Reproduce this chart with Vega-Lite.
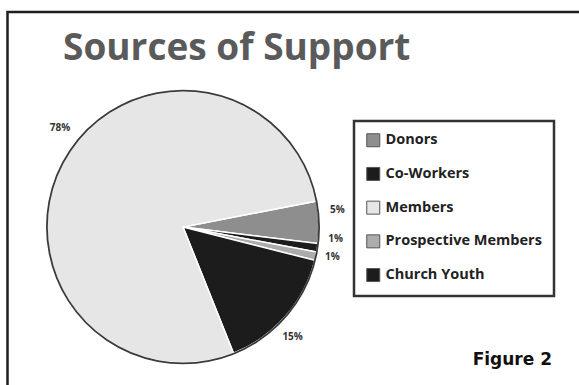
{
  "$schema": "https://vega.github.io/schema/vega-lite/v6.json",
  "width": 280,
  "height": 280,
  "autosize": "none",
  "padding": {"left": 43, "top": 87, "right": 256, "bottom": 18},
  "background": "#ffffff",
  "config": {"view": {"stroke": null}, "legend": {"strokeWidth": 2.5}},
  "title": {
    "text": "Sources of Support",
    "anchor": "start",
    "frame": "group",
    "dx": 20,
    "dy": 36,
    "offset": -58,
    "baseline": "bottom",
    "font": "Open Sans",
    "fontSize": 37,
    "fontWeight": "bold",
    "color": "#5a5a5a"
  },
  "data": {
    "values": [
      {"source": "Donors", "pct": 5, "label": "5%", "seq": 1},
      {"source": "Co-Workers", "pct": 1, "label": "1%", "seq": 2},
      {"source": "Prospective Members", "pct": 1, "label": "1%", "seq": 3},
      {"source": "Church Youth", "pct": 15, "label": "15%", "seq": 4},
      {"source": "Members", "pct": 78, "label": "78%", "seq": 5}
    ]
  },
  "layer": [
    {
      "data": {"values": [{"frame": "outer"}]},
      "mark": {"type": "rect", "x": -35.5, "x2": 620, "y": -75, "y2": 420, "fill": null, "stroke": "#1e1e1e", "strokeWidth": 2.5},
      "encoding": {}
    },
    {
      "mark": {"type": "arc", "radius": 136, "stroke": "#ffffff", "strokeWidth": 1.5},
      "encoding": {
        "theta": {"field": "pct", "type": "quantitative", "stack": true, "scale": {"range": [1.3788, 7.662]}},
        "order": {"field": "seq", "type": "quantitative"},
        "color": {
          "field": "source",
          "type": "nominal",
          "scale": {
            "domain": ["Donors", "Co-Workers", "Members", "Prospective Members", "Church Youth"],
            "range": ["#8e8e8e", "#1c1c1c", "#e6e6e6", "#acacac", "#1c1c1c"]
          },
          "legend": {
            "orient": "none",
            "legendX": 311,
            "legendY": 34,
            "title": null,
            "strokeColor": "#333333",
            "padding": 12,
            "symbolType": "square",
            "symbolSize": 169,
            "symbolStrokeColor": "#555555",
            "symbolStrokeWidth": 1,
            "symbolOpacity": 1,
            "labelFont": "Open Sans",
            "labelFontWeight": "bold",
            "labelFontSize": 14.5,
            "labelColor": "#222222",
            "rowPadding": 15.7,
            "labelOffset": 5
          }
        }
      }
    },
    {
      "transform": [{"aggregate": [{"op": "sum", "field": "pct", "as": "total"}]}],
      "mark": {"type": "arc", "radius": 136, "fill": null, "stroke": "#3a3a3a", "strokeWidth": 1.8},
      "encoding": {
        "theta": {"field": "total", "type": "quantitative", "stack": true}
      }
    },
    {
      "mark": {"type": "text", "radius": 155, "dx": -0.5, "dy": -11.5, "font": "Open Sans", "fontWeight": "bold", "fontSize": 10, "fill": "#333333"},
      "encoding": {
        "theta": {"field": "pct", "type": "quantitative", "stack": true},
        "order": {"field": "seq", "type": "quantitative"},
        "text": {"condition": {"test": "datum.seq <= 2", "field": "label"}, "value": ""}
      }
    },
    {
      "mark": {"type": "text", "radius": 155, "dx": -2, "dy": -3, "font": "Open Sans", "fontWeight": "bold", "fontSize": 10, "fill": "#333333"},
      "encoding": {
        "theta": {"field": "pct", "type": "quantitative", "stack": true},
        "order": {"field": "seq", "type": "quantitative"},
        "text": {"condition": {"test": "datum.seq == 3", "field": "label"}, "value": ""}
      }
    },
    {
      "mark": {"type": "text", "radius": 155, "dx": -7, "dy": 8, "font": "Open Sans", "fontWeight": "bold", "fontSize": 10, "fill": "#333333"},
      "encoding": {
        "theta": {"field": "pct", "type": "quantitative", "stack": true},
        "order": {"field": "seq", "type": "quantitative"},
        "text": {"condition": {"test": "datum.seq == 4", "field": "label"}, "value": ""}
      }
    },
    {
      "mark": {"type": "text", "radius": 155, "dx": 13, "dy": -25, "font": "Open Sans", "fontWeight": "bold", "fontSize": 10, "fill": "#333333"},
      "encoding": {
        "theta": {"field": "pct", "type": "quantitative", "stack": true},
        "order": {"field": "seq", "type": "quantitative"},
        "text": {"condition": {"test": "datum.seq == 5", "field": "label"}, "value": ""}
      }
    },
    {
      "data": {"values": [{"caption": "Figure 2"}]},
      "mark": {"type": "text", "x": 509, "y": 278, "align": "right", "baseline": "alphabetic", "font": "DejaVu Sans", "fontWeight": "bold", "fontSize": 17, "fill": "#111111"},
      "encoding": {"text": {"field": "caption"}}
    }
  ]
}
